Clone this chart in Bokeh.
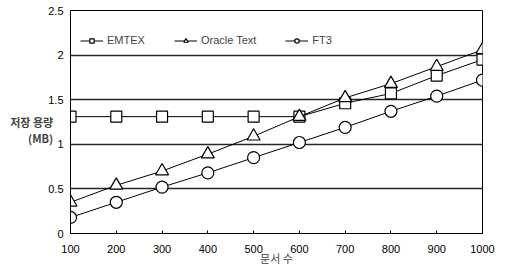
from bokeh.plotting import figure
from bokeh.models import Range1d, FixedTicker, Legend, LegendItem
from bokeh.embed import file_html
from bokeh.resources import INLINE

docs = [100, 200, 300, 400, 500, 600, 700, 800, 900, 1000]
emtex = [1.31, 1.31, 1.31, 1.31, 1.31, 1.31, 1.46, 1.57, 1.77, 1.95]
oracle = [0.35, 0.54, 0.70, 0.89, 1.09, 1.31, 1.52, 1.68, 1.87, 2.06]
ft3 = [0.18, 0.35, 0.52, 0.68, 0.85, 1.02, 1.19, 1.37, 1.54, 1.72]
y_ticks = [0, 0.5, 1, 1.5, 2, 2.5]

FONT = "Liberation Sans"
KFONT = "Noto Sans CJK KR"

p = figure(width=509, height=263, output_backend="svg", toolbar_location=None,
           x_range=Range1d(100, 1000), y_range=Range1d(0, 2.5),
           frame_width=412, frame_height=223,
           min_border_left=70, min_border_right=27, min_border_top=10, min_border_bottom=10)
p.background_fill_color = "white"
p.outline_line_color = "black"
p.outline_line_width = 1

p.xaxis.ticker = FixedTicker(ticks=docs)
p.yaxis.ticker = FixedTicker(ticks=y_ticks)
p.xgrid.visible = False
p.ygrid.grid_line_color = "black"
p.ygrid.grid_line_width = 1.5
p.ygrid.grid_line_alpha = 0.85

for ax in (p.xaxis[0], p.yaxis[0]):
    ax.axis_line_color = "black"
    ax.major_label_text_font = FONT
    ax.major_label_text_font_size = "11px"
    ax.major_label_text_color = "black"
    ax.minor_tick_line_color = None
p.xaxis.major_tick_in = 3
p.xaxis.major_tick_out = 0
p.xaxis.major_label_standoff = 11
p.yaxis.major_tick_line_color = None
p.yaxis.major_label_standoff = 1
p.xaxis.axis_label = "문서 수"
p.xaxis.axis_label_text_font = KFONT
p.xaxis.axis_label_text_font_style = "normal"
p.xaxis.axis_label_text_font_size = "11px"
p.xaxis.axis_label_standoff = -6

p.yaxis.axis_label = "\n저장 용량\n(MB)"
p.yaxis.axis_label_orientation = "horizontal"
p.yaxis.axis_label_text_font = KFONT
p.yaxis.axis_label_text_font_style = "bold"
p.yaxis.axis_label_text_font_size = "11px"
p.yaxis.axis_label_text_align = "center"
p.yaxis.axis_label_standoff = -8
p.yaxis.axis_label_text_line_height = 1.0

r1l = p.line(docs, emtex, line_color="black", line_width=1)
r1m = p.scatter(docs, emtex, marker="square", size=11, fill_color="white", line_color="black", line_width=1.2)
r2l = p.line(docs, oracle, line_color="black", line_width=1)
r2m = p.scatter(docs, oracle, marker="triangle", size=13, fill_color="white", line_color="black", line_width=1.2)
r3l = p.line(docs, ft3, line_color="black", line_width=1)
r3m = p.scatter(docs, ft3, marker="circle", size=12, fill_color="white", line_color="black", line_width=1.2)

legend = Legend(items=[LegendItem(label="EMTEX", renderers=[r1l, r1m]),
                       LegendItem(label="Oracle Text", renderers=[r2l, r2m]),
                       LegendItem(label="FT3", renderers=[r3l, r3m])],
                orientation="horizontal", location=(10, 187))
legend.border_line_color = None
legend.background_fill_alpha = 0
legend.label_text_font = FONT
legend.label_text_font_size = "11px"
legend.glyph_width = 23
legend.glyph_height = 11
legend.label_standoff = 4
legend.spacing = 29
legend.margin = 0
legend.padding = 5
p.add_layout(legend)

open("out.html", "w").write(file_html(p, INLINE))
